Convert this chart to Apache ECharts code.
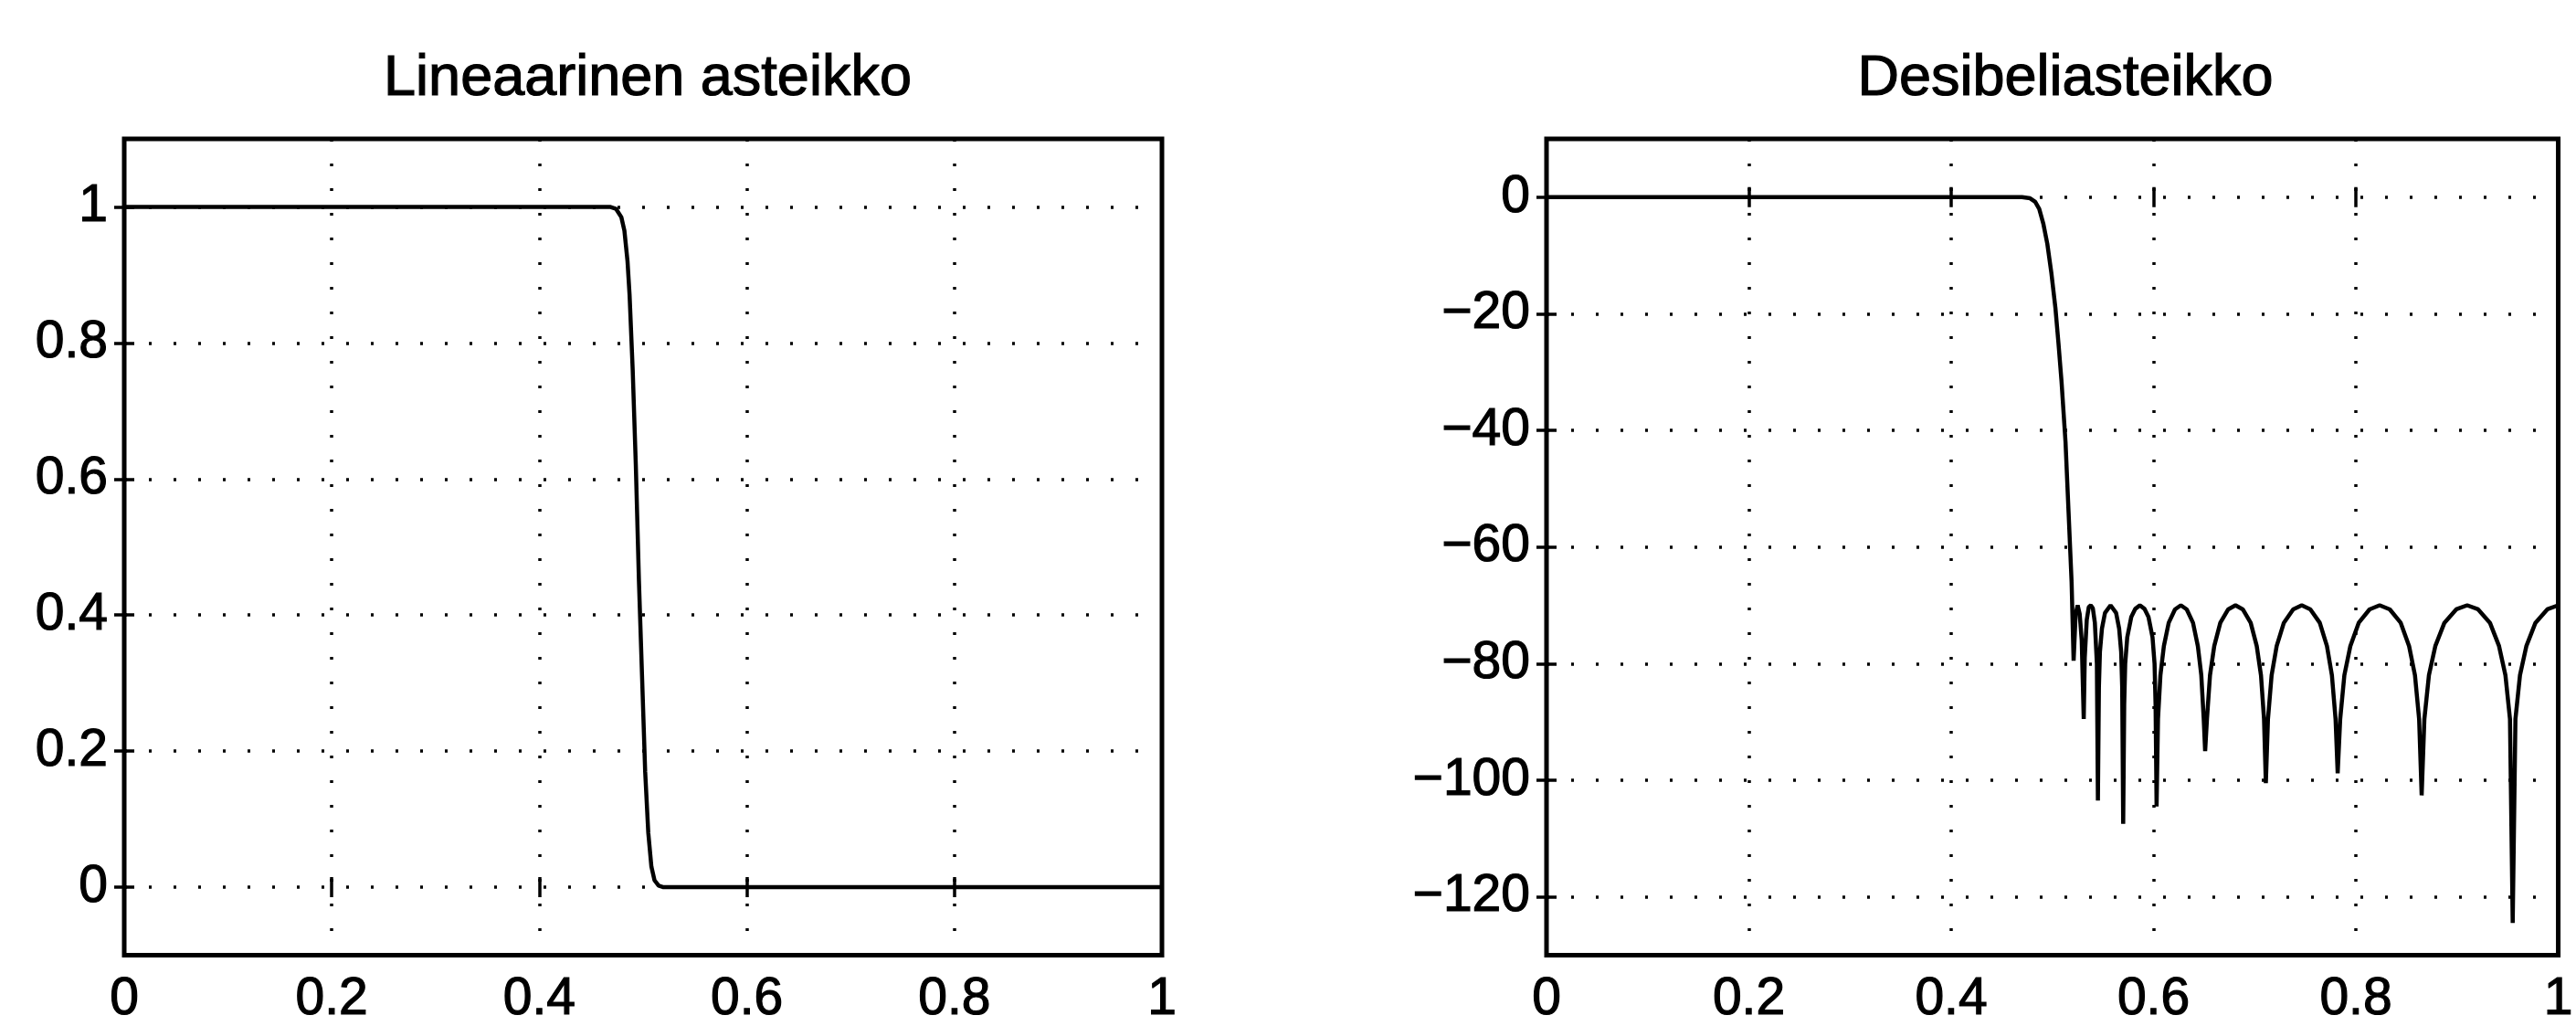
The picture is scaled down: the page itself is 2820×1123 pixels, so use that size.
<!DOCTYPE html>
<html>
<head>
<meta charset="utf-8">
<title>Lineaarinen / Desibeliasteikko</title>
<script src="https://cdn.jsdelivr.net/npm/echarts@6/dist/echarts.min.js"></script>
</head>
<body style="margin:0; background:#fff; overflow:hidden">
<div id="main" style="width:2820px; height:1123px;"></div>
<script>
// tick values
var xTicks = [0, 0.2, 0.4, 0.6, 0.8, 1];
var linTicks = [0, 0.2, 0.4, 0.6, 0.8, 1];
var dbTicks = [-120, -100, -80, -60, -40, -20, 0];
var titles = ['Lineaarinen asteikko', 'Desibeliasteikko'];

// magnitude, linear scale
var linCurve = [
  [0, 1], [0.468, 1], [0.474, 0.997], [0.479, 0.985], [0.482, 0.965], [0.485, 0.92],
  [0.487, 0.87], [0.49, 0.76], [0.493, 0.62], [0.496, 0.45], [0.499, 0.31], [0.502, 0.17],
  [0.505, 0.08], [0.508, 0.03], [0.511, 0.01], [0.515, 0.002], [0.519, 0], [1, 0]
];

// magnitude in dB
var dbCurve = [
  [0, 0], [0.47, 0], [0.478, -0.2], [0.483, -0.8], [0.487, -2], [0.491, -4.5], [0.495, -8],
  [0.499, -13], [0.503, -19], [0.506, -25], [0.509, -31.5], [0.513, -42], [0.516, -54],
  [0.519, -66], [0.521, -79.5],
  [0.523, -71.5], [0.525, -70], [0.527, -71.5], [0.529, -76], [0.531, -89.5],
  [0.532, -79], [0.534, -72.5], [0.536, -70.3], [0.538, -70], [0.540, -70.5], [0.542, -73], [0.544, -80], [0.545, -103.5],
  [0.546, -84], [0.547, -78], [0.549, -74], [0.552, -71.3], [0.5575, -70], [0.563, -71.3], [0.566, -74], [0.568, -78], [0.569, -84], [0.570, -107.5],
  [0.571, -87], [0.572, -80], [0.574, -75.5], [0.578, -72], [0.582, -70.6], [0.5865, -70], [0.591, -70.6], [0.595, -72], [0.599, -75.5], [0.601, -80], [0.602, -87], [0.603, -104.5],
  [0.6044, -89.5], [0.6068, -82], [0.6102, -77], [0.615, -73], [0.6212, -70.7], [0.627, -70], [0.6328, -70.7], [0.639, -73], [0.6438, -77], [0.6472, -82], [0.6496, -89.5], [0.651, -95],
  [0.6528, -89.5], [0.6558, -82], [0.66, -77], [0.666, -73], [0.6738, -70.7], [0.681, -70], [0.6882, -70.7], [0.696, -73], [0.702, -77], [0.7062, -82], [0.7092, -89.5], [0.711, -100.5],
  [0.7131, -89.5], [0.7167, -82], [0.7217, -77], [0.7288, -73], [0.738, -70.7], [0.7465, -70], [0.755, -70.7], [0.7643, -73], [0.7714, -77], [0.7763, -82], [0.7799, -89.5], [0.782, -98.8],
  [0.7845, -89.5], [0.7886, -82], [0.7945, -77], [0.8028, -73], [0.8135, -70.7], [0.8235, -70], [0.8335, -70.7], [0.8443, -73], [0.8526, -77], [0.8584, -82], [0.8625, -89.5], [0.865, -102.6],
  [0.8677, -89.5], [0.8722, -82], [0.8785, -77], [0.8875, -73], [0.8992, -70.7], [0.910, -70], [0.9208, -70.7], [0.9325, -73], [0.9415, -77], [0.9478, -82], [0.9523, -89.5], [0.955, -124.5],
  [0.9577, -89.5], [0.9622, -82], [0.9685, -77], [0.9775, -73], [0.9892, -70.7], [1.0, -70]
];

var FONT = 'Liberation Sans';
var labelSize = 57;

function fmt(v) {
  return String(v).replace('-', '\u2212');
}

var dots = {color: '#000', width: 3.5, type: [3, 24]};
var tick = {inside: true, length: 11, lineStyle: {color: '#000', width: 3.5}};
// scanned print look: a thin outline makes the glyphs a bit heavier
var ink = {color: '#000', fontFamily: FONT, textBorderColor: '#000', textBorderWidth: 1.2};

function makeX(grid, pos, showLabel) {
  return {
    type: 'value', gridIndex: grid, position: pos, min: 0, max: 1, interval: 0.2,
    axisLine: {show: false},
    axisTick: Object.assign({}, tick),
    axisLabel: Object.assign({show: showLabel, fontSize: labelSize, margin: 20, formatter: fmt}, ink),
    splitLine: {show: showLabel, lineStyle: dots}
  };
}

function makeY(grid, pos, showLabel, lo, hi, ticks) {
  return {
    type: 'value', gridIndex: grid, position: pos, min: lo, max: hi,
    axisLine: {show: false},
    axisTick: Object.assign({customValues: ticks}, tick),
    axisLabel: Object.assign({show: showLabel, customValues: ticks, fontSize: labelSize, margin: 18, formatter: fmt}, ink),
    splitLine: {show: showLabel, lineStyle: dots}
  };
}

var chart = echarts.init(document.getElementById('main'));
var gridBox = {show: true, borderColor: '#000', borderWidth: 5, backgroundColor: 'transparent'};
var titleStyle = Object.assign({fontWeight: 'normal', fontSize: 63}, ink);

var option = {
  animation: false,
  backgroundColor: '#fff',
  title: [
    {text: titles[0], left: 704, top: 50, textAlign: 'center', textStyle: titleStyle},
    {text: titles[1], left: 2256, top: 50, textAlign: 'center', textStyle: titleStyle}
  ],
  grid: [
    Object.assign({left: 136, top: 152, width: 1136, height: 896}, gridBox),
    Object.assign({left: 1693, top: 152, width: 1126, height: 896}, gridBox)
  ],
  xAxis: [
    makeX(0, 'bottom', true), makeX(0, 'top', false),
    makeX(1, 'bottom', true), makeX(1, 'top', false)
  ],
  yAxis: [
    makeY(0, 'left', true, -0.1, 1.1, linTicks), makeY(0, 'right', false, -0.1, 1.1, linTicks),
    makeY(1, 'left', true, -130, 10, dbTicks), makeY(1, 'right', false, -130, 10, dbTicks)
  ],
  series: [
    {type: 'line', xAxisIndex: 0, yAxisIndex: 0, data: linCurve, showSymbol: false,
     lineStyle: {color: '#000', width: 4.5}, z: 5},
    {type: 'line', xAxisIndex: 2, yAxisIndex: 2, data: dbCurve, showSymbol: false,
     lineStyle: {color: '#000', width: 4.5}, z: 5}
  ]
};

chart.setOption(option);
</script>
</body>
</html>
